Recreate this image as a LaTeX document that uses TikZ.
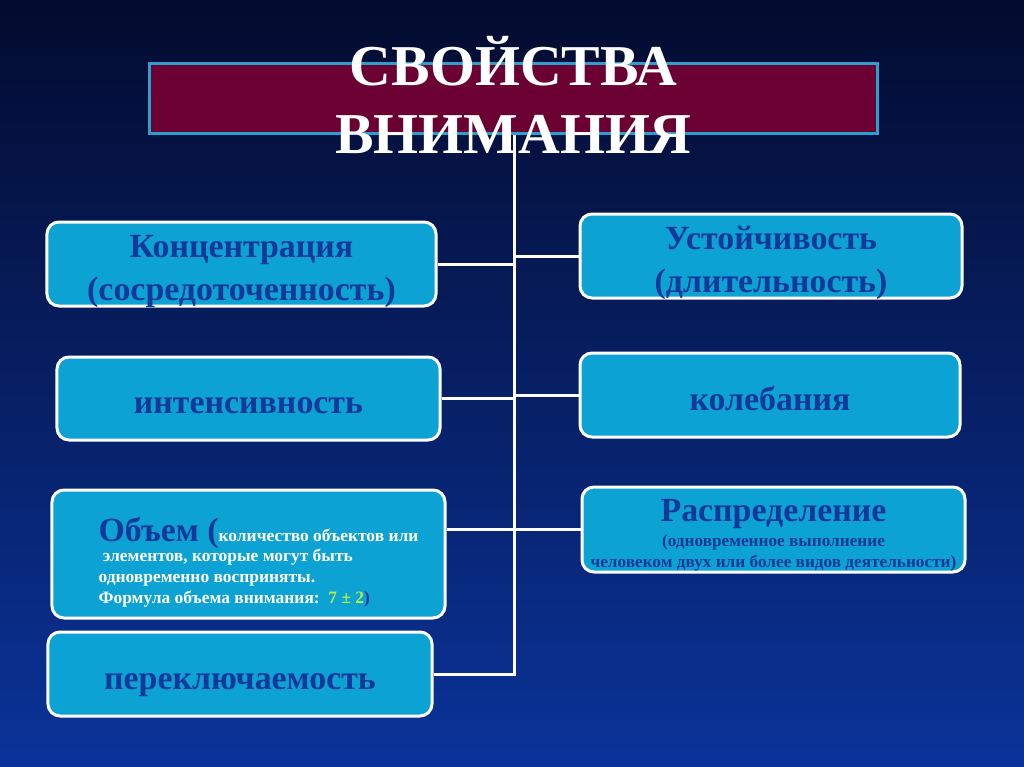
\documentclass[tikz,border=0pt]{standalone}
\usepackage{fontspec}
\setmainfont{Liberation Serif}
\definecolor{bgtop}{HTML}{030B2E}
\definecolor{bgmid}{HTML}{0A2C8C}
\definecolor{bgbot}{HTML}{0A3399}
\definecolor{boxfill}{HTML}{0CA2D4}
\definecolor{boxtext}{HTML}{12389A}
\definecolor{titlefill}{HTML}{6B0032}
\definecolor{titleline}{HTML}{2A9FD0}
\definecolor{formula}{HTML}{B8F040}
\begin{document}
\begin{tikzpicture}[x=1bp, y=-1bp,
    prop/.style={rectangle, rounded corners=12bp, draw=white, line width=3bp, fill=boxfill, text=boxtext, font=\bfseries\fontsize{34}{43}\selectfont, align=center, inner sep=0pt},
    oneline/.style={text height=30bp, text depth=0pt},
    twoline/.style={text height=72bp, text depth=0pt},
    titlebox/.style={rectangle, draw=titleline, line width=3bp, fill=titlefill, minimum width=727bp, minimum height=69bp, inner sep=0pt},
    titletext/.style={text=white, font=\bfseries\fontsize{58}{69}\selectfont, align=center, inner sep=0pt},
    link/.style={draw=white, line width=3bp}
]
% Background
\shade[top color=bgtop, middle color=bgmid, bottom color=bgbot] (0,0) rectangle (1024,767);

% Title
\node[titlebox] (title) at (513.5,98.5) {};
\node[titletext] (titletext) at (513.5,95) {СВОЙСТВА\\ВНИМАНИЯ};

% Left column
\node[prop, twoline, minimum width=389bp, minimum height=84bp] (conc) at (241.5,264) {Концентрация\\(сосредоточенность)};
\node[prop, oneline, minimum width=383bp, minimum height=83bp] (inten) at (248.5,398.5) {интенсивность};
\node[prop, minimum width=393bp, minimum height=128bp, align=left, text=white, font=\bfseries\fontsize{17.5}{23}\selectfont, text height=98bp, text depth=0pt] (vol) at (248.5,554)
  {\hspace*{20bp}{\color{boxtext}\fontsize{34}{34}\selectfont Объем (}количество объектов или\\[-3bp]
   \hspace*{20bp}\ элементов, которые могут быть\\[-2bp]
   \hspace*{20bp}одновременно восприняты.\\[-2bp]
   \hspace*{20bp}Формула объема внимания:\ \ {\color{formula}7 ± 2}{\color{boxtext})}};
\node[prop, oneline, minimum width=384bp, minimum height=84bp] (switch) at (240,674) {переключаемость};

% Right column
\node[prop, twoline, minimum width=382bp, minimum height=84bp] (stab) at (771,256) {Устойчивость\\(длительность)};
\node[prop, oneline, minimum width=380bp, minimum height=84bp] (fluct) at (770,395) {колебания};
\node[prop, minimum width=383bp, minimum height=85bp, text height=75bp, text depth=0pt] (distr) at (773.5,529.5)
  {Распределение\\[-18bp]{\fontsize{17.3}{20}\selectfont (одновременное выполнение}\\[-22bp]
   {\fontsize{17.3}{20}\selectfont человеком двух или более видов деятельности)}};

% Connections
\coordinate (trunk) at (514,674);
\draw[link] (title.south -| trunk) -- (trunk) -- (switch.east);
\draw[link] (conc.east) -- (conc.east -| trunk);
\draw[link] (stab.west) -- (stab.west -| trunk);
\draw[link] (inten.east) -- (inten.east -| trunk);
\draw[link] (fluct.west) -- (fluct.west -| trunk);
\draw[link] (distr.west) -- (vol.east |- distr.west);
\end{tikzpicture}
\end{document}
